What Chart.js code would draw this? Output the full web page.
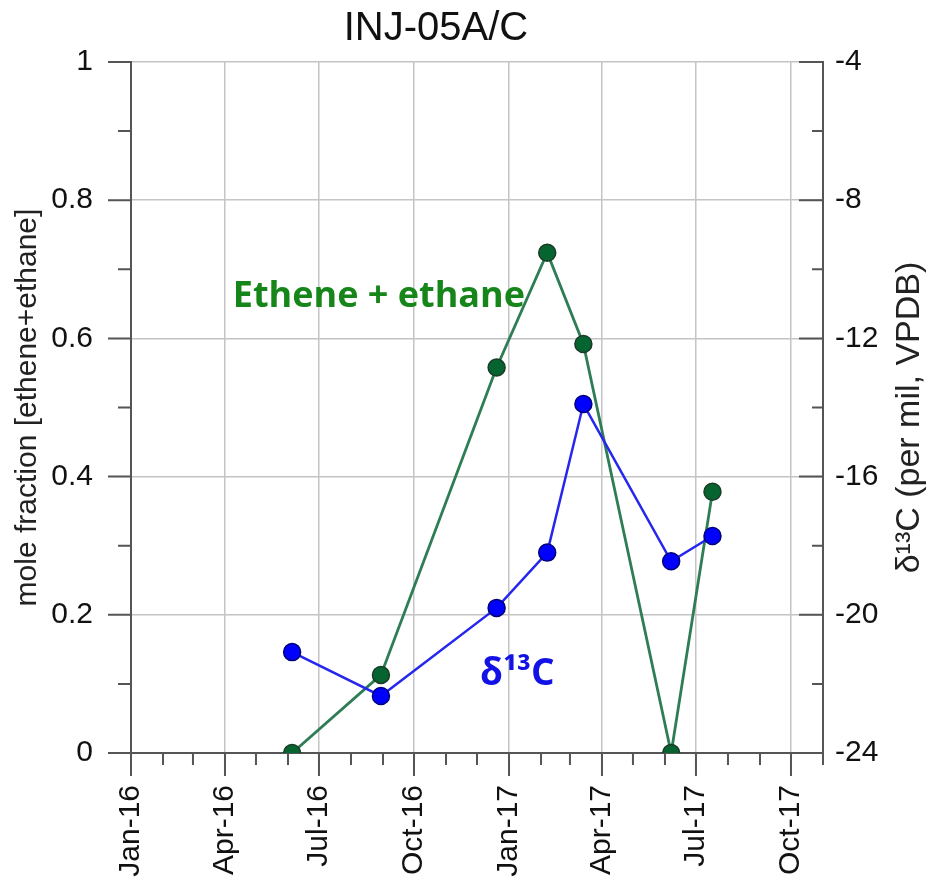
<!DOCTYPE html>
<html>
<head>
<meta charset="utf-8">
<script src="https://cdn.jsdelivr.net/npm/chart.js@4.4.1/dist/chart.umd.min.js"></script>
<style>
  html, body { margin: 0; padding: 0; background: #fff; }
  #wrap { width: 930px; height: 886px; }
</style>
</head>
<body>
<div id="wrap"><canvas id="chart"></canvas></div>
<script>
// sample dates and values
const sampleDates = ["2016-06-05", "2016-08-30", "2016-12-20", "2017-02-07", "2017-03-14", "2017-06-07", "2017-07-17"];
const etheneEthane = [0, 0.113, 0.558, 0.724, 0.592, 0, 0.378];
const delta13C = [-21.08, -22.35, -19.8, -18.2, -13.9, -18.45, -17.72];

const monthNames = ["Jan", "Feb", "Mar", "Apr", "May", "Jun", "Jul", "Aug", "Sep", "Oct", "Nov", "Dec"];
const xStart = "2016-01-01";
const xEnd = "2017-11-01";

const chartTitle = "INJ-05A/C";
const leftTitle = "mole fraction [ethene+ethane]";
const rightTitle = "δ¹³C (per mil, VPDB)";

// label anchors in data units (date, left-axis value)
const etheneLabel = { text: "Ethene + ethane", date: "2016-08-28", value: 0.645 };
const deltaLabel = { text: "δ¹³C", date: "2017-01-09", value: 0.098 };

const toMs = d => Date.parse(d);

// month starts for the x ticks
const monthTicks = [];
for (let y = 2016, m = 0; Date.UTC(y, m, 1) <= toMs(xEnd); m++) {
  if (m > 11) { m = 0; y++; }
  monthTicks.push(Date.UTC(y, m, 1));
}
const isQuarter = v => new Date(v).getUTCMonth() % 3 === 0;

const axisColor = "#555";
const gridColor = "#c4c4c4";
const textColor = "#111";

const tickMarks = {
  id: "tickMarks",
  afterDraw(chart) {
    const { ctx, chartArea: a, scales } = chart;
    ctx.save();
    ctx.strokeStyle = axisColor;
    ctx.lineWidth = 2;
    ctx.beginPath();
    monthTicks.forEach(v => {
      const px = scales.x.getPixelForValue(v);
      ctx.moveTo(px, a.bottom);
      ctx.lineTo(px, a.bottom + (isQuarter(v) ? 23 : 12));
    });
    for (let i = 0; i <= 10; i++) {
      const py = scales.y.getPixelForValue(i / 10);
      ctx.moveTo(a.left, py);
      ctx.lineTo(a.left - (i % 2 === 0 ? 23 : 13), py);
    }
    for (let v = -24; v <= -4; v += 2) {
      const py = scales.y2.getPixelForValue(v);
      ctx.moveTo(a.right, py);
      ctx.lineTo(a.right - (v % 4 === 0 ? 24 : 11), py);
    }
    ctx.stroke();

    // chart title
    ctx.fillStyle = textColor;
    ctx.textAlign = "center";
    ctx.textBaseline = "alphabetic";
    ctx.font = "40px 'Liberation Sans', Arial, sans-serif";
    ctx.fillText(chartTitle, 436, 40);

    // right axis title, reading upward
    ctx.save();
    ctx.font = "34px 'Liberation Sans', Arial, sans-serif";
    ctx.textBaseline = "middle";
    ctx.translate(910, (a.top + a.bottom) / 2 + 10);
    ctx.rotate(-Math.PI / 2);
    ctx.fillStyle = "#222";
    ctx.fillText(rightTitle, 0, 0);
    ctx.restore();
    ctx.restore();
  }
};

const textLabels = {
  id: "textLabels",
  beforeDatasetsDraw(chart) {
    const { ctx, scales } = chart;
    ctx.save();
    ctx.textAlign = "center";
    ctx.textBaseline = "alphabetic";
    ctx.font = "bold 36px 'Open Sans', sans-serif";
    ctx.fillStyle = "#17861a";
    ctx.fillText(etheneLabel.text, scales.x.getPixelForValue(toMs(etheneLabel.date)), scales.y.getPixelForValue(etheneLabel.value));
    ctx.font = "bold 37px 'Open Sans', sans-serif";
    ctx.fillStyle = "#1212e6";
    ctx.fillText(deltaLabel.text, scales.x.getPixelForValue(toMs(deltaLabel.date)), scales.y.getPixelForValue(deltaLabel.value));
    ctx.restore();
  }
};

Chart.defaults.font.family = "'Liberation Sans', Arial, sans-serif";
Chart.defaults.color = textColor;

new Chart(document.getElementById("chart"), {
  type: "line",
  data: {
    datasets: [
      {
        label: "δ13C",
        data: sampleDates.map((d, i) => ({ x: toMs(d), y: delta13C[i] })),
        yAxisID: "y2",
        borderColor: "#2626ee",
        borderWidth: 2.5,
        pointBackgroundColor: "#0000ff",
        pointBorderColor: "#00007a",
        pointBorderWidth: 1.5,
        pointRadius: 8.5,
        tension: 0
      },
      {
        label: "Ethene + ethane",
        data: sampleDates.map((d, i) => ({ x: toMs(d), y: etheneEthane[i] })),
        yAxisID: "y",
        borderColor: "#2e7d55",
        borderWidth: 2.8,
        pointBackgroundColor: "#05642f",
        pointBorderColor: "#1b3b26",
        pointBorderWidth: 1.5,
        pointRadius: 8.5,
        tension: 0
      }
    ]
  },
  options: {
    responsive: true,
    maintainAspectRatio: false,
    animation: false,
    layout: { padding: { top: 62 } },
    plugins: {
      legend: { display: false },
      tooltip: { enabled: false }
    },
    scales: {
      x: {
        type: "linear",
        min: toMs(xStart),
        max: toMs(xEnd),
        afterBuildTicks: scale => { scale.ticks = monthTicks.map(v => ({ value: v })); },
        afterFit: scale => { scale.height = 133; },
        ticks: {
          autoSkip: false,
          minRotation: 90,
          maxRotation: 90,
          padding: 32,
          font: { size: 30 },
          callback: v => {
            const d = new Date(v);
            return isQuarter(v) ? monthNames[d.getUTCMonth()] + "-" + String(d.getUTCFullYear()).slice(2) : "";
          }
        },
        grid: {
          drawTicks: false,
          lineWidth: 1.5,
          color: c => (c.tick && isQuarter(c.tick.value) ? gridColor : "rgba(0,0,0,0)")
        },
        border: { color: axisColor, width: 2 }
      },
      y: {
        position: "left",
        min: 0,
        max: 1,
        afterFit: scale => { scale.width = 131; },
        ticks: {
          stepSize: 0.2,
          padding: 38,
          font: { size: 30 },
          callback: v => String(+v.toFixed(1))
        },
        grid: { drawTicks: false, lineWidth: 1.5, color: gridColor },
        border: { color: axisColor, width: 2 },
        title: {
          display: true,
          text: leftTitle,
          font: { size: 30 },
          color: "#222",
          padding: { top: 10, bottom: 0 }
        }
      },
      y2: {
        position: "right",
        min: -24,
        max: -4,
        afterFit: scale => { scale.width = 107; },
        ticks: {
          stepSize: 4,
          padding: 12,
          font: { size: 30 }
        },
        grid: { drawOnChartArea: false, drawTicks: false },
        border: { color: axisColor, width: 2 }
      }
    }
  },
  plugins: [textLabels, tickMarks]
});
</script>
</body>
</html>
